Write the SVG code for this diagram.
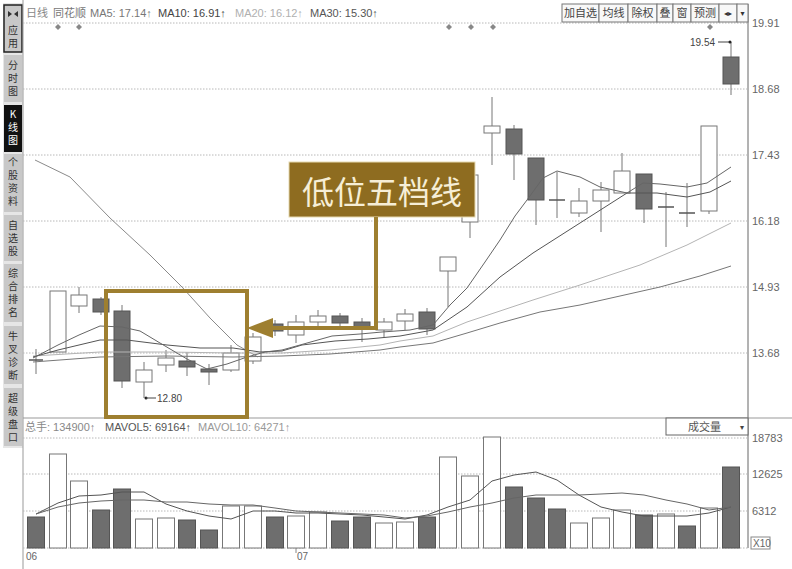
<svg xmlns="http://www.w3.org/2000/svg" width="792" height="569" viewBox="0 0 792 569">
<style>
.t{font-family:"Liberation Sans",Arial,sans-serif;font-size:11px;}
.cjk{font-family:"Noto Sans CJK SC","Liberation Sans",sans-serif;}
.side{font-family:"Noto Sans CJK SC",sans-serif;font-size:10px;fill:#333;writing-mode:vertical-rl;text-orientation:upright;letter-spacing:3px;}
.grid{stroke:#b8b8b8;stroke-width:1;stroke-dasharray:1.5 1.5;fill:none;}
.up{fill:#fff;stroke:#777;stroke-width:1;}
.dn{fill:#6e6e6e;stroke:#555;stroke-width:1;}
.wk{stroke:#777;stroke-width:1;fill:none;}
.dj{stroke:#555;stroke-width:1.5;}
.ma{fill:none;stroke-width:1;}
.ax{font-family:"Liberation Sans",Arial,sans-serif;font-size:11px;fill:#666;}
.btn{fill:#f8f8f8;stroke:#777;stroke-width:1;}
</style>
<rect width="792" height="569" fill="#fff"/>

<!-- sidebar -->
<g id="sidebar">
<rect x="3" y="3" width="20" height="445" fill="#e6e6e6"/>
<rect x="4" y="5" width="18" height="47" fill="#c8c8c8" stroke="#222" stroke-width="1.5"/>
<path d="M8,11 l4,3 -4,3z M18,11 l-4,3 4,3z" fill="#333"/>
<text class="side" x="13" y="25">应用</text>
<rect x="4" y="55" width="18" height="47" fill="#c8c8c8"/>
<text class="side" x="13" y="60">分时图</text>
<rect x="4" y="105" width="18" height="47" fill="#111"/>
<text class="side" x="13" y="109" style="fill:#fff">K线图</text>
<rect x="4" y="154" width="18" height="58" fill="#c8c8c8"/>
<text class="side" x="13" y="157">个股资料</text>
<rect x="4" y="215" width="18" height="46" fill="#c8c8c8"/>
<text class="side" x="13" y="220">自选股</text>
<rect x="4" y="264" width="18" height="58" fill="#c8c8c8"/>
<text class="side" x="13" y="268">综合排名</text>
<rect x="4" y="326" width="18" height="58" fill="#c8c8c8"/>
<text class="side" x="13" y="331">牛叉诊断</text>
<rect x="4" y="388" width="18" height="58" fill="#c8c8c8"/>
<text class="side" x="13" y="393">超级盘口</text>
</g>

<!-- frame and grid -->
<g id="frame">
<line x1="23" y1="0" x2="23" y2="569" stroke="#999"/>
<line x1="748" y1="4" x2="748" y2="548" stroke="#666"/>
<line x1="23" y1="418" x2="792" y2="418" stroke="#999"/>
<line class="grid" x1="23" y1="23" x2="748" y2="23"/>
<line class="grid" x1="23" y1="89" x2="748" y2="89"/>
<line class="grid" x1="23" y1="155" x2="748" y2="155"/>
<line class="grid" x1="23" y1="221" x2="748" y2="221"/>
<line class="grid" x1="23" y1="287" x2="748" y2="287"/>
<line class="grid" x1="23" y1="353" x2="748" y2="353"/>
<line class="grid" x1="23" y1="438" x2="748" y2="438"/>
<line class="grid" x1="23" y1="474" x2="748" y2="474"/>
<line class="grid" x1="23" y1="511" x2="748" y2="511"/>
<line class="grid" x1="23" y1="548" x2="748" y2="548"/>
<text class="ax" x="752" y="27">19.91</text>
<text class="ax" x="752" y="93">18.68</text>
<text class="ax" x="752" y="159">17.43</text>
<text class="ax" x="752" y="225">16.18</text>
<text class="ax" x="752" y="291">14.93</text>
<text class="ax" x="752" y="357">13.68</text>
<text class="ax" x="752" y="442">18783</text>
<text class="ax" x="752" y="478">12625</text>
<text class="ax" x="752" y="515">6312</text>
<rect x="751" y="537" width="19" height="12" fill="none" stroke="#888"/>
<text class="ax" x="753" y="547" style="font-size:10px">X10</text>
<line x1="296" y1="548" x2="296" y2="553" stroke="#888"/>
<text class="ax" x="26" y="560" style="font-size:10px">06</text>
<text class="ax" x="297" y="560" style="font-size:10px">07</text>
</g>

<!-- header -->
<g id="header">
<text class="cjk" x="26" y="17" style="font-size:11px;fill:#888">日线</text>
<text class="cjk" x="53" y="17" style="font-size:11px;fill:#777">同花顺</text>
<text class="t" x="90" y="17" fill="#777">MA5: 17.14↑</text>
<text class="t" x="158" y="17" fill="#444">MA10: 16.91↑</text>
<text class="t" x="235" y="17" fill="#b0b0b0">MA20: 16.12↑</text>
<text class="t" x="310" y="17" fill="#555">MA30: 15.30↑</text>
<rect class="btn" x="562" y="4" width="37" height="18"/>
<rect class="btn" x="599" y="4" width="29" height="18"/>
<rect class="btn" x="628" y="4" width="29" height="18"/>
<rect class="btn" x="657" y="4" width="16" height="18"/>
<rect class="btn" x="673" y="4" width="18" height="18"/>
<rect class="btn" x="691" y="4" width="28" height="18"/>
<rect class="btn" x="719" y="4" width="18" height="18"/>
<rect class="btn" x="737" y="4" width="11" height="18"/>
<g class="cjk" style="font-size:11px;fill:#444" text-anchor="middle">
<text x="580.5" y="17">加自选</text>
<text x="613.5" y="17">均线</text>
<text x="642.5" y="17">除权</text>
<text x="665" y="17">叠</text>
<text x="682" y="17">窗</text>
<text x="705" y="17">预测</text>
</g>
<text x="728" y="16" text-anchor="middle" style="font-family:'DejaVu Sans',sans-serif;font-size:8px;fill:#333">◂▸</text>
<text x="742.5" y="16" text-anchor="middle" style="font-family:'DejaVu Sans',sans-serif;font-size:8px;fill:#333">▾</text>
<g fill="#888">
<path d="M58,24 l3,3 -3,3 -3,-3z"/>
<path d="M79,24 l3,3 -3,3 -3,-3z"/>
<path d="M449,24 l3,3 -3,3 -3,-3z"/>
<path d="M471,24 l3,3 -3,3 -3,-3z"/>
<path d="M493,24 l3,3 -3,3 -3,-3z"/>
<path d="M710,24 l3,3 -3,3 -3,-3z"/>
</g>
</g>

<!-- candles -->
<g id="candles">
<line class="wk" x1="36" y1="349" x2="36" y2="374"/><line class="dj" x1="29" y1="360" x2="43" y2="360"/>
<rect class="up" x="50" y="291" width="16" height="61"/>
<line class="wk" x1="79" y1="287" x2="79" y2="295"/><line class="wk" x1="79" y1="306" x2="79" y2="313"/><rect class="up" x="71" y="295" width="16" height="11"/>
<line class="wk" x1="101" y1="297" x2="101" y2="315"/><rect class="dn" x="93" y="299" width="16" height="13"/>
<line class="wk" x1="122" y1="305" x2="122" y2="388"/><rect class="dn" x="114" y="311" width="16" height="70"/>
<line class="wk" x1="144" y1="362" x2="144" y2="370"/><line class="wk" x1="144" y1="382" x2="144" y2="398"/><rect class="up" x="136" y="370" width="16" height="12"/>
<line class="wk" x1="166" y1="350" x2="166" y2="358"/><line class="wk" x1="166" y1="365" x2="166" y2="372"/><rect class="up" x="158" y="358" width="16" height="7"/>
<line class="wk" x1="187" y1="352" x2="187" y2="376"/><rect class="dn" x="179" y="361" width="16" height="6"/>
<line class="wk" x1="209" y1="364" x2="209" y2="385"/><rect class="dn" x="201" y="369" width="16" height="3"/>
<line class="wk" x1="231" y1="345" x2="231" y2="353"/><line class="wk" x1="231" y1="370" x2="231" y2="372"/><rect class="up" x="223" y="353" width="16" height="17"/>
<line class="wk" x1="253" y1="333" x2="253" y2="337"/><line class="wk" x1="253" y1="361" x2="253" y2="364"/><rect class="up" x="245" y="337" width="16" height="24"/>
<line class="wk" x1="275" y1="320" x2="275" y2="336"/><rect class="dn" x="267" y="324" width="16" height="7"/>
<line class="wk" x1="296" y1="315" x2="296" y2="322"/><line class="wk" x1="296" y1="335" x2="296" y2="343"/><rect class="up" x="288" y="322" width="16" height="13"/>
<line class="wk" x1="318" y1="310" x2="318" y2="316"/><line class="wk" x1="318" y1="322" x2="318" y2="330"/><rect class="up" x="310" y="316" width="16" height="6"/>
<line class="wk" x1="340" y1="313" x2="340" y2="326"/><rect class="dn" x="332" y="316" width="16" height="7"/>
<line class="wk" x1="362" y1="318" x2="362" y2="342"/><rect class="dn" x="354" y="322" width="16" height="6"/>
<line class="wk" x1="384" y1="318" x2="384" y2="322"/><line class="wk" x1="384" y1="330" x2="384" y2="337"/><rect class="up" x="376" y="322" width="16" height="8"/>
<line class="wk" x1="405" y1="309" x2="405" y2="314"/><line class="wk" x1="405" y1="321" x2="405" y2="330"/><rect class="up" x="397" y="314" width="16" height="7"/>
<line class="wk" x1="427" y1="308" x2="427" y2="335"/><rect class="dn" x="419" y="312" width="16" height="17"/>
<line class="wk" x1="448" y1="271" x2="448" y2="307"/><rect class="up" x="440" y="257" width="16" height="14"/>
<line class="wk" x1="470" y1="172" x2="470" y2="175"/><line class="wk" x1="470" y1="222" x2="470" y2="238"/><rect class="up" x="462" y="175" width="16" height="47"/>
<line class="wk" x1="492" y1="97" x2="492" y2="126"/><line class="wk" x1="492" y1="133" x2="492" y2="165"/><rect class="up" x="484" y="126" width="16" height="7"/>
<line class="wk" x1="514" y1="125" x2="514" y2="180"/><rect class="dn" x="506" y="129" width="16" height="25"/>
<line class="wk" x1="536" y1="158" x2="536" y2="225"/><rect class="dn" x="528" y="158" width="16" height="42"/>
<line class="wk" x1="557" y1="172" x2="557" y2="218"/><line class="dj" x1="549" y1="200" x2="565" y2="200"/>
<line class="wk" x1="579" y1="188" x2="579" y2="201"/><line class="wk" x1="579" y1="213" x2="579" y2="217"/><rect class="up" x="571" y="201" width="16" height="12"/>
<line class="wk" x1="601" y1="182" x2="601" y2="190"/><line class="wk" x1="601" y1="201" x2="601" y2="232"/><rect class="up" x="593" y="190" width="16" height="11"/>
<line class="wk" x1="622" y1="153" x2="622" y2="171"/><rect class="up" x="614" y="171" width="16" height="22"/>
<line class="wk" x1="644" y1="174" x2="644" y2="223"/><rect class="dn" x="636" y="174" width="16" height="35"/>
<line class="wk" x1="666" y1="192" x2="666" y2="247"/><line class="dj" x1="658" y1="207" x2="674" y2="207"/>
<line class="wk" x1="687" y1="183" x2="687" y2="227"/><line class="dj" x1="679" y1="213" x2="695" y2="213"/>
<line class="wk" x1="709" y1="211" x2="709" y2="214"/><rect class="up" x="701" y="126" width="16" height="85"/>
<line class="wk" x1="731" y1="42" x2="731" y2="95"/><rect class="dn" x="723" y="57" width="16" height="27"/>
<text class="t" x="690" y="46" style="font-size:10px" fill="#444">19.54</text>
<line x1="718" y1="42" x2="729" y2="42" stroke="#444"/><circle cx="730" cy="42" r="1.5" fill="#222"/>
<circle cx="146" cy="398" r="1.5" fill="#222"/><line x1="146" y1="398" x2="156" y2="398" stroke="#444"/>
<text class="t" x="157" y="402" style="font-size:10px" fill="#444">12.80</text>
</g>

<!-- moving averages -->
<g id="ma-lines">
<polyline class="ma" stroke="#8a8a8a" points="35,160 70,177 110,218 150,255 182,287 210,318 237,345 258,357"/>
<polyline class="ma" stroke="#777" points="33,362 100,357 167,356 233,357 282,356 330,354 380,350 400,347 433,343 467,333 500,323 540,312 580,305 620,296 660,287 700,276 731,266"/>
<polyline class="ma" stroke="#b4b4b4" points="33,356 100,352 167,352 233,353 282,353 330,350 380,345 400,341 433,336 467,322 500,311 533,300 580,285 640,265 687,245 731,223"/>
<polyline class="ma" stroke="#555" points="33,357 58,350 79,345 100,340 127,340 167,345 200,348 233,348 260,352 282,351 302,345 335,341 368,339 400,336 433,330 467,307 500,277 533,253 580,223 627,193 657,193 687,197 710,192 731,181"/>
<polyline class="ma" stroke="#666" points="33,358 58,345 79,335 100,326 122,327 140,331 160,343 187,359 207,369 227,364 247,357 265,352 282,350 300,345 332,336 360,334 382,332 410,330 433,325 450,305 467,288 485,262 500,240 515,216 527,200 543,178 557,171 580,177 600,187 627,193 643,183 660,184 687,187 707,183 731,167"/>
</g>

<!-- volume -->
<g id="volume">
<text class="t" x="25" y="431" fill="#888"><tspan class="cjk">总手</tspan>: 134900↑</text>
<text class="t" x="105" y="431" fill="#555">MAVOL5: 69164↑</text>
<text class="t" x="198" y="431" fill="#999">MAVOL10: 64271↑</text>
<rect x="666" y="418" width="82" height="17" fill="#fff" stroke="#666"/>
<text class="cjk" x="688" y="431" style="font-size:11px;fill:#555">成交量</text>
<text x="742" y="430" text-anchor="middle" style="font-family:'DejaVu Sans',sans-serif;font-size:8px;fill:#444">▾</text>
<rect class="dn" x="27.5" y="517" width="17" height="31"/>
<rect class="up" x="49.5" y="454" width="17" height="94"/>
<rect class="up" x="70.5" y="481" width="17" height="67"/>
<rect class="dn" x="92.5" y="510" width="17" height="38"/>
<rect class="dn" x="113.5" y="489" width="17" height="59"/>
<rect class="up" x="135.5" y="519" width="17" height="29"/>
<rect class="up" x="157.5" y="518" width="17" height="30"/>
<rect class="dn" x="178.5" y="520" width="17" height="28"/>
<rect class="dn" x="200.5" y="530" width="17" height="18"/>
<rect class="up" x="222.5" y="506" width="17" height="42"/>
<rect class="up" x="244.5" y="506" width="17" height="42"/>
<rect class="dn" x="266.5" y="517" width="17" height="31"/>
<rect class="up" x="287.5" y="516" width="17" height="32"/>
<rect class="up" x="309.5" y="512" width="17" height="36"/>
<rect class="dn" x="331.5" y="521" width="17" height="27"/>
<rect class="dn" x="353.5" y="517" width="17" height="31"/>
<rect class="up" x="375.5" y="523" width="17" height="25"/>
<rect class="up" x="396.5" y="522" width="17" height="26"/>
<rect class="dn" x="418.5" y="517" width="17" height="31"/>
<rect class="up" x="439.5" y="457" width="17" height="91"/>
<rect class="up" x="461.5" y="476" width="17" height="72"/>
<rect class="up" x="483.5" y="437" width="17" height="111"/>
<rect class="dn" x="505.5" y="487" width="17" height="61"/>
<rect class="dn" x="527.5" y="498" width="17" height="50"/>
<rect class="dn" x="548.5" y="509" width="17" height="39"/>
<rect class="up" x="570.5" y="523" width="17" height="25"/>
<rect class="up" x="592.5" y="518" width="17" height="30"/>
<rect class="up" x="613.5" y="510" width="17" height="38"/>
<rect class="dn" x="635.5" y="515" width="17" height="33"/>
<rect class="up" x="657.5" y="514" width="17" height="34"/>
<rect class="dn" x="678.5" y="526" width="17" height="22"/>
<rect class="up" x="700.5" y="508" width="17" height="40"/>
<rect class="dn" x="722.5" y="467" width="17" height="81"/>
<polyline class="ma" stroke="#555" points="36,514 58,503 79,496 101,495 122,492 144,492 166,504 187,511 209,516 231,519 253,511 275,511 296,513 318,513 340,514 362,515 384,517 405,519 427,515 448,507 470,500 492,481 514,475 536,472 557,480 579,495 601,507 622,512 644,516 666,516 687,516 709,513 731,507"/>
<polyline class="ma" stroke="#666" points="36,514 58,507 79,503 101,501 122,500 144,500 166,502 187,502 209,504 231,505 253,505 275,508 296,511 318,512 340,513 362,514 384,515 405,518 427,516 448,512 470,507 492,503 514,498 536,495 557,495 579,495 601,494 622,493 644,495 666,500 687,504 709,510 731,507"/>
</g>

<!-- annotation -->
<g id="annotation">
<rect x="106" y="291" width="141" height="126" fill="none" stroke="#9e7f30" stroke-width="4"/>
<rect x="289" y="162" width="186" height="55" fill="#8e6c20" stroke="#e6d9b0" stroke-width="1"/>
<text x="382" y="204" text-anchor="middle" class="cjk" style="font-size:32px;fill:#f6eed6">低位五档线</text>
</g>
<g id="connectors">
<polyline points="376,217 376,328 270,328" fill="none" stroke="#9e7f30" stroke-width="4"/>
<polygon points="247,328 273,318 273,338" fill="#9e7f30"/>
</g>
</svg>
